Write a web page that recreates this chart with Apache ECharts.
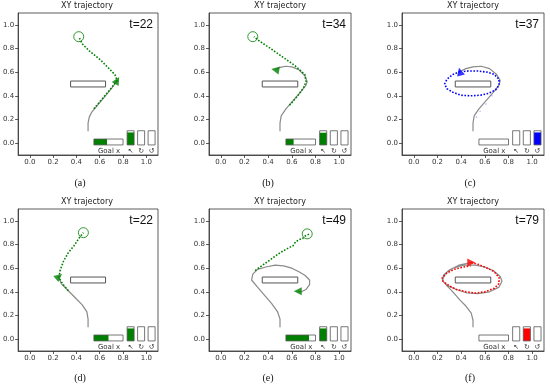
<!DOCTYPE html>
<html><head><meta charset="utf-8">
<script src="https://cdn.jsdelivr.net/npm/echarts@6/dist/echarts.min.js"></script>
<style>html,body{margin:0;padding:0;background:#fff}#c{width:550px;height:387px}</style>
</head><body><div id="c"></div>
<script>
// ---- data ----
const panelLabels = ['(a)','(b)','(c)','(d)','(e)','(f)'];
const tLabels = [22, 34, 37, 22, 49, 79];
const axisTicks = [0.0, 0.2, 0.4, 0.6, 0.8, 1.0];
const obstacle = [[0.35, 0.475, 0.65, 0.525]];
const panelColors = ['#008000','#008000','#0000ff','#008000','#008000','#ff0000'];

const pathA = [[0.50,0.10],[0.50,0.17],[0.51,0.22],[0.53,0.26],[0.58,0.32],[0.64,0.39],[0.70,0.46],[0.75,0.53]];
const predA = [[0.55,0.29],[0.60,0.35],[0.66,0.42],[0.71,0.48],[0.75,0.53],[0.73,0.58],[0.70,0.61],[0.61,0.70],[0.51,0.78],[0.45,0.84],[0.42,0.90]];
const pathB = [[0.50,0.10],[0.50,0.17],[0.51,0.23],[0.55,0.29],[0.62,0.37],[0.68,0.44],[0.72,0.49],[0.73,0.52],[0.71,0.57],[0.66,0.62],[0.60,0.645],[0.55,0.65],[0.50,0.64],[0.46,0.62]];
const predB = [[0.58,0.32],[0.65,0.40],[0.70,0.47],[0.72,0.52],[0.71,0.58],[0.62,0.66],[0.52,0.73],[0.42,0.80],[0.33,0.86],[0.28,0.90]];
const pathC = [[0.50,0.10],[0.50,0.17],[0.51,0.23],[0.55,0.29],[0.62,0.37],[0.68,0.44],[0.72,0.49],[0.73,0.53],[0.70,0.58],[0.64,0.63],[0.57,0.65],[0.50,0.645],[0.44,0.63],[0.39,0.605]];
const predC = [[0.39,0.605],[0.33,0.58],[0.28,0.54],[0.26,0.50],[0.28,0.46],[0.33,0.43],[0.40,0.405],[0.48,0.40],[0.56,0.405],[0.63,0.42],[0.69,0.45],[0.72,0.49],[0.72,0.54],[0.68,0.58],[0.62,0.60],[0.54,0.61],[0.46,0.61],[0.41,0.605]];
const fadeC = [[0.53,0.22],[0.56,0.27],[0.61,0.33],[0.66,0.40],[0.70,0.46]];
const pathD = [[0.50,0.10],[0.50,0.17],[0.49,0.23],[0.45,0.29],[0.39,0.35],[0.32,0.42],[0.27,0.47],[0.25,0.52]];
const predD = [[0.33,0.41],[0.28,0.47],[0.25,0.52],[0.26,0.58],[0.29,0.66],[0.33,0.73],[0.38,0.79],[0.42,0.85],[0.46,0.90]];
const pathE = [[0.50,0.10],[0.50,0.17],[0.48,0.23],[0.43,0.30],[0.37,0.37],[0.31,0.44],[0.26,0.50],[0.27,0.55],[0.31,0.59],[0.38,0.61],[0.46,0.625],[0.53,0.62],[0.60,0.60],[0.66,0.57],[0.71,0.54],[0.75,0.50],[0.75,0.46],[0.72,0.42],[0.68,0.40],[0.65,0.405]];
const predE = [[0.29,0.58],[0.36,0.63],[0.43,0.68],[0.50,0.73],[0.57,0.77],[0.61,0.79],[0.63,0.82],[0.66,0.84],[0.69,0.85],[0.71,0.87],[0.75,0.89]];
const pathF = [[0.50,0.10],[0.50,0.16],[0.485,0.22],[0.44,0.28],[0.39,0.33],[0.33,0.40],[0.28,0.45],[0.24,0.50],[0.27,0.56],[0.33,0.60],[0.42,0.625],[0.52,0.625],[0.60,0.61],[0.67,0.58],[0.73,0.53],[0.745,0.49],[0.72,0.44],[0.64,0.40],[0.54,0.385],[0.45,0.39],[0.36,0.42],[0.29,0.45],[0.245,0.49],[0.25,0.54],[0.30,0.585],[0.38,0.625],[0.485,0.648]];
const predF = [[0.485,0.648],[0.55,0.63],[0.62,0.60],[0.68,0.57],[0.72,0.52],[0.72,0.47],[0.68,0.43],[0.60,0.40],[0.52,0.39],[0.44,0.40],[0.36,0.42],[0.30,0.45],[0.245,0.49],[0.24,0.52],[0.28,0.56],[0.34,0.59],[0.42,0.61],[0.48,0.62]];

const paths = [pathA, pathB, pathC, pathD, pathE, pathF];
const preds = [predA, predB, predC, predD, predE, predF];
const goals = [[0.42,0.90],[0.27,0.90],null,[0.46,0.90],[0.73,0.89],null];
const agents = [[0.75,0.53],[0.46,0.62],[0.39,0.605],[0.25,0.53],[0.65,0.405],[0.485,0.648]];
const agentHeading = [60, 170, 105, 40, 180, 0];
const goalXFill = [0.45, 0.26, 0, 0.50, 0.78, 0];
const actionFill = [[0.88,0,0],[0.86,0,0],[0,0,0.88],[0.88,0,0],[0.88,0,0],[0,0.88,0]];
const actionGlyphs = ['↖','↻','↺'];

// ---- layout ----
const boxes = [[16,13],[209,13],[402,13],[16,209],[209,209],[402,209]];
const BW = 142, BH = 142;
const labelCenters = [[80,183],[268,183],[470,183],[80,378],[268,378],[470,378]];

const grids = [], xAxes = [], yAxes = [], series = [], graphics = [];
const tickFmt = v => v.toFixed(1);
const axisCommon = (i) => ({
  gridIndex: i, type: 'value', min: -0.1, max: 1.1,
  axisLine: { show: true, onZero: false, lineStyle: { color: '#333', width: 0.8 } },
  axisTick: { show: true, customValues: axisTicks, length: 3, lineStyle: { color: '#333', width: 0.8 } },
  axisLabel: { customValues: axisTicks, formatter: tickFmt, fontSize: 7, color: '#333', margin: 4, fontFamily: 'DejaVu Sans' },
  splitLine: { show: false }
});

boxes.forEach((b, i) => {
  grids.push({ left: b[0], top: b[1], width: BW, height: BH, show: true, borderColor: '#333', borderWidth: 0.8, backgroundColor: '#fff' });
  xAxes.push(axisCommon(i));
  yAxes.push(axisCommon(i));
  const col = panelColors[i];
  series.push({
    type: 'custom', xAxisIndex: i, yAxisIndex: i, data: obstacle, z: 3,
    renderItem: (p, api) => {
      const a = api.coord([api.value(0), api.value(1)]);
      const c = api.coord([api.value(2), api.value(3)]);
      return { type: 'rect', shape: { x: a[0], y: c[1], width: c[0]-a[0], height: a[1]-c[1] },
        style: { fill: '#fff', stroke: '#555', lineWidth: 1 } };
    }
  });
  series.push({ type: 'line', xAxisIndex: i, yAxisIndex: i, data: paths[i], showSymbol: false, z: 4,
    lineStyle: { color: '#8a8a8a', width: 1.2 } });
  if (i === 2) {
    series.push({ type: 'scatter', xAxisIndex: i, yAxisIndex: i, data: fadeC, symbolSize: 1.6, z: 5,
      itemStyle: { color: 'rgba(0,0,255,0.35)' } });
  }
  series.push({ type: 'line', xAxisIndex: i, yAxisIndex: i, data: preds[i], showSymbol: false, z: 5,
    lineStyle: { color: col, width: 1.6, type: [1.6, 1.6] } });
  if (goals[i]) {
    series.push({ type: 'scatter', xAxisIndex: i, yAxisIndex: i, data: [goals[i]], symbol: 'circle', symbolSize: 10, z: 6,
      itemStyle: { color: 'rgba(0,0,0,0)', borderColor: col, borderWidth: 1 } });
  }
  series.push({ type: 'scatter', xAxisIndex: i, yAxisIndex: i, data: [agents[i]], symbol: 'triangle', symbolSize: 8,
    symbolRotate: agentHeading[i] - 90, z: 7, itemStyle: { color: col } });
  series.push({
    type: 'custom', xAxisIndex: i, yAxisIndex: i, data: [[0.8, 0]], z: 8,
    renderItem: (p, api) => {
      const R = (x0, y0, x1, y1) => { const a = api.coord([x0, y0]); const c = api.coord([x1, y1]);
        return { x: a[0], y: c[1], width: c[0]-a[0], height: a[1]-c[1] }; };
      const ch = [];
      const gx0 = 0.55, gx1 = 0.80, gy0 = -0.015, gy1 = 0.035;
      if (goalXFill[i] > 0) ch.push({ type: 'rect', shape: R(gx0, gy0, gx0 + (gx1-gx0)*goalXFill[i], gy1), style: { fill: col } });
      ch.push({ type: 'rect', shape: R(gx0, gy0, gx1, gy1), style: { fill: 'none', stroke: '#555', lineWidth: 0.8 } });
      const lp = api.coord([(gx0+gx1)/2 + 0.005, -0.035]);
      ch.push({ type: 'text', x: lp[0], y: lp[1], style: { text: 'Goal x', fontSize: 7, fontFamily: 'DejaVu Sans', fill: '#333', align: 'center', verticalAlign: 'top', textAlign: 'center', textVerticalAlign: 'top' } });
      const bx = [0.835, 0.925, 1.015], bw = 0.06, by0 = -0.015, by1 = 0.105;
      bx.forEach((x0, k) => {
        const v = actionFill[i][k];
        if (v > 0) ch.push({ type: 'rect', shape: R(x0, by0, x0 + bw, by0 + (by1-by0)*v), style: { fill: col } });
        ch.push({ type: 'rect', shape: R(x0, by0, x0 + bw, by1), style: { fill: 'none', stroke: '#555', lineWidth: 0.8 } });
        const tp = api.coord([x0 + bw/2, -0.035]);
        ch.push({ type: 'text', x: tp[0], y: tp[1], style: { text: actionGlyphs[k], fontSize: 7, fontFamily: 'DejaVu Sans', fill: '#333', align: 'center', verticalAlign: 'top', textAlign: 'center', textVerticalAlign: 'top' } });
      });
      return { type: 'group', children: ch };
    }
  });
  graphics.push({ type: 'text', x: b[0] + BW/2, y: b[1] - 7, style: { text: 'XY trajectory', font: '8px "DejaVu Sans"', fill: '#222', textAlign: 'center', textVerticalAlign: 'middle' } });
  graphics.push({ type: 'text', x: b[0] + BW - 5, y: b[1] + 6, style: { text: 't=' + tLabels[i], font: '12px "Liberation Sans"', fill: '#111', textAlign: 'right', textVerticalAlign: 'top' } });
  graphics.push({ type: 'text', x: labelCenters[i][0], y: labelCenters[i][1], style: { text: panelLabels[i], font: '10px "Liberation Serif"', fill: '#111', textAlign: 'center', textVerticalAlign: 'middle' } });
});

const chart = echarts.init(document.getElementById('c'), null, { renderer: 'canvas' });
chart.setOption({ animation: false, backgroundColor: '#fff', grid: grids, xAxis: xAxes, yAxis: yAxes, series, graphic: graphics });
</script></body></html>
